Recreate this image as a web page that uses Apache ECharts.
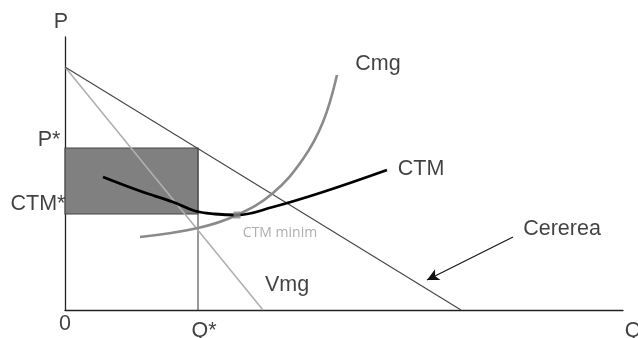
<!DOCTYPE html>
<html><head><meta charset="utf-8">
<script src="https://cdn.jsdelivr.net/npm/echarts@6/dist/echarts.min.js"></script>
<style>html,body{margin:0;padding:0;background:#fff}#c{width:638px;height:338px}</style>
</head><body><div id="c"></div>
<script>
// Data (quantity Q on x, price/cost P on y, arbitrary units)
var demandLine = [[0, 243], [396, 0]];          // Cererea
var vmgLine = [[0, 243], [198, 0]];             // Venit marginal
var cmgCurve = [[75, 73], [133, 82], [172, 95], [208, 117], [238, 151], [258, 188], [272, 235]];
var ctmCurve = [[38, 133], [75, 119], [108, 108], [130, 99], [150, 96], [172, 95], [208, 103], [258, 118], [322, 140]];
var qStar = 133, pStar = 162, ctmStar = 96;
var ctmMin = [172, 95];
var arrowFrom = [448, 73], arrowTo = [362, 30];
var labels = [
  {v: [-4, 288], t: 'P'},
  {v: [-16, 170], t: 'P*'},
  {v: [-27, 106], t: 'CTM*'},
  {v: [0, -14], t: '0'},
  {v: [139, -21], t: 'Q*'},
  {v: [568, -21], t: 'Q'},
  {v: [313, 246], t: 'Cmg'},
  {v: [356, 140.5], t: 'CTM'},
  {v: [497, 80.5], t: 'Cererea'},
  {v: [222, 24.5], t: 'Vmg'}
];
var smallLabels = [{v: [215, 77], t: 'CTM minim'}];

var chart = echarts.init(document.getElementById('c'), null, {renderer: 'canvas'});
var font = 'Liberation Sans, Arial, sans-serif';
chart.setOption({
  animation: false,
  grid: {left: 65, right: 15, top: 37, bottom: 28},
  xAxis: {type: 'value', min: 0, max: 558, splitLine: {show: false},
    axisLine: {show: true, onZero: false, lineStyle: {color: '#222', width: 1.3}},
    axisTick: {show: false}, axisLabel: {show: false}},
  yAxis: {type: 'value', min: 0, max: 273, splitLine: {show: false},
    axisLine: {show: true, onZero: false, lineStyle: {color: '#222', width: 1.3}},
    axisTick: {show: false}, axisLabel: {show: false}},
  series: [
    {type: 'line', data: [[qStar, 0], [qStar, pStar]], symbol: 'none', z: 3,
      lineStyle: {color: '#555', width: 1.2},
      markArea: {silent: true, itemStyle: {color: '#808080', borderColor: '#444', borderWidth: 1.2},
        data: [[{coord: [0, pStar]}, {coord: [qStar, ctmStar]}]]}},
    {type: 'line', data: vmgLine, symbol: 'none', z: 4, lineStyle: {color: '#b0b0b0', width: 1.6}},
    {type: 'line', data: demandLine, symbol: 'none', z: 4, lineStyle: {color: '#444', width: 1.1}},
    {type: 'line', data: cmgCurve, symbol: 'none', smooth: 0.4, z: 5, lineStyle: {color: '#8a8a8a', width: 2.6}},
    {type: 'line', data: ctmCurve, symbol: 'none', smooth: 0.4, z: 6, lineStyle: {color: '#000', width: 2.8}},
    {type: 'scatter', data: [ctmMin], symbol: 'rect', symbolSize: 7, z: 7, itemStyle: {color: '#8a8a8a'}},
    {type: 'line', data: [], symbol: 'none',
      markLine: {silent: true, symbol: ['none', 'arrow'], symbolSize: [9, 12], label: {show: false},
        lineStyle: {color: '#111', width: 1.2, type: 'solid'},
        data: [[{coord: arrowFrom}, {coord: arrowTo}]]}},
    {type: 'scatter', clip: false, symbolSize: 0, z: 10,
      data: labels.map(function (d) { return {value: d.v, name: d.t}; }),
      label: {show: true, position: 'inside', formatter: '{b}', color: '#111', fontSize: 21.5,
        fontFamily: font, align: 'center', verticalAlign: 'middle'}},
    {type: 'scatter', clip: false, symbolSize: 0, z: 10,
      data: smallLabels.map(function (d) { return {value: d.v, name: d.t}; }),
      label: {show: true, position: 'inside', formatter: '{b}', color: '#999', fontSize: 14,
        fontFamily: 'Open Sans, Noto Sans, sans-serif', align: 'center', verticalAlign: 'middle'}}
  ]
});
</script></body></html>
